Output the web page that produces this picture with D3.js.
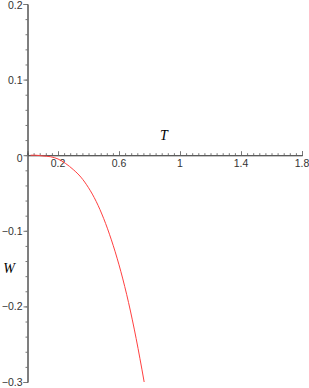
<!DOCTYPE html>
<html><head><meta charset="utf-8">
<script src="https://cdn.jsdelivr.net/npm/d3@7"></script>
<style>html,body{margin:0;padding:0;background:#fff;}svg{display:block;}</style>
</head><body>
<script>
const T = [0.02, 0.05, 0.1, 0.15, 0.2, 0.25, 0.3, 0.35, 0.4, 0.45, 0.5, 0.55, 0.6, 0.65, 0.7, 0.75, 0.765];
const W = [0, 0, -0.001, -0.002, -0.005, -0.011, -0.019, -0.029, -0.043, -0.061, -0.084, -0.112, -0.145, -0.184, -0.230, -0.283, -0.300];
const xTickLabels = [0.2, 0.6, 1, 1.4, 1.8];
const yTickLabels = [0.2, 0.1, 0, -0.1, -0.2, -0.3];

const width = 309, height = 388;
const svg = d3.select("body").append("svg").attr("width", width).attr("height", height);
const x = d3.scaleLinear().domain([0, 1.8]).range([27.5, 302]);
const y = d3.scaleLinear().domain([-0.3, 0.2]).range([382, 4]);
const axisColor = "#555";
const tickColor = "#777";
const fmt = v => (v < 0 ? "\u2212" : "") + String(Math.abs(v));

// x axis at y=0, ticks pointing up
const xMinor = d3.range(0, 45.5).map(i => +(i * 0.04).toFixed(2));
const gx = svg.append("g").attr("transform", `translate(0,${y(0)})`);
gx.call(d3.axisTop(x).tickValues(xMinor).tickSize(2).tickFormat(""));
gx.append("g").call(d3.axisTop(x).tickValues(xTickLabels).tickSize(4).tickFormat(""));
gx.selectAll(".domain").attr("stroke", axisColor);
gx.selectAll(".tick line").attr("stroke", tickColor);
gx.selectAll(".labels").data(xTickLabels).enter().append("text")
  .attr("x", d => x(d)).attr("y", 12).attr("text-anchor", "middle")
  .attr("font-family", "Liberation Sans, Arial, sans-serif").attr("font-size", 10.5).attr("fill", "#333")
  .text(d => fmt(d));

// y axis
const yMinor = d3.range(0, 25.5).map(i => +(-0.3 + i * 0.02).toFixed(2));
const gy = svg.append("g").attr("transform", `translate(${x(0)},0)`);
gy.call(d3.axisLeft(y).tickValues(yMinor).tickSize(2).tickFormat(""));
gy.append("g").call(d3.axisLeft(y).tickValues(yTickLabels).tickSize(4).tickFormat(""));
gy.selectAll(".domain").attr("stroke", axisColor);
gy.selectAll(".tick line").attr("stroke", tickColor);
gy.selectAll(".labels").data(yTickLabels).enter().append("text")
  .attr("x", -5).attr("y", d => y(d) + (d === 0 ? 7 : (d === 0.2 ? 5 : 4))).attr("text-anchor", "end")
  .attr("font-family", "Liberation Sans, Arial, sans-serif").attr("font-size", 10.5).attr("fill", "#333")
  .text(d => fmt(d));

// curve
const line = d3.line().x((d, i) => x(T[i])).y(d => y(d)).curve(d3.curveMonotoneX);
svg.append("path").datum(W).attr("d", line).attr("fill", "none").attr("stroke", "#ff4040").attr("stroke-width", 1);

// axis titles
svg.append("text").attr("x", 164).attr("y", 140).attr("text-anchor", "middle")
  .attr("font-family", "Liberation Serif, Times New Roman, serif").attr("font-style", "italic").attr("font-size", 14).text("T");
svg.append("text").attr("x", 9).attr("y", 273).attr("text-anchor", "middle")
  .attr("font-family", "Liberation Serif, Times New Roman, serif").attr("font-style", "italic").attr("font-size", 14).text("W");
</script>
</body></html>
